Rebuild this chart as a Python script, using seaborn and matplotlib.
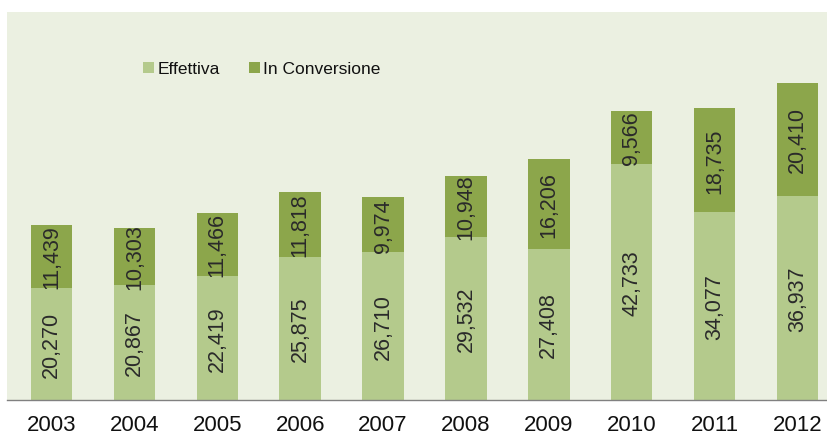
import matplotlib
matplotlib.use("Agg")
import matplotlib.pyplot as plt
import seaborn as sns
import numpy as np
import pandas as pd
from matplotlib.patches import Patch

years = ["2003", "2004", "2005", "2006", "2007", "2008", "2009", "2010", "2011", "2012"]
effettiva = [20270, 20867, 22419, 25875, 26710, 29532, 27408, 42733, 34077, 36937]
conversione = [11439, 10303, 11466, 11818, 9974, 10948, 16206, 9566, 18735, 20410]

light = "#b4ca8c"
dark = "#8ca64b"
bg = "#ebf0e1"

sns.set_theme(style="white")
plt.rcParams['font.family'] = ['Liberation Sans', 'DejaVu Sans']

df = pd.DataFrame({"year": years, "eff": effettiva, "conv": conversione})
df["tot"] = df["eff"] + df["conv"]

fig = plt.figure(figsize=(8.27, 4.35), dpi=100)
ax = fig.add_axes([7/827, 34/435, 820/827, 388/435])
ax.set_facecolor(bg)

sns.barplot(data=df, x="year", y="tot", color=dark, width=0.5, saturation=1, ax=ax, edgecolor="none")
sns.barplot(data=df, x="year", y="eff", color=light, width=0.5, saturation=1, ax=ax, edgecolor="none")

for i, (e, c) in enumerate(zip(effettiva, conversione)):
    ax.text(i, e / 2, f"{e:,}", rotation=90, ha="center", va="center", fontsize=15.5, color="#2a2a2a")
    ax.text(i, e + c / 2, f"{c:,}", rotation=90, ha="center", va="center", fontsize=15.5, color="#2a2a2a")

ax.set_xlim(-0.537, 9.356)
ax.set_ylim(0, 70200)
ax.set_xlabel("")
ax.set_ylabel("")
ax.set_yticks([])
ax.tick_params(axis="x", length=0, labelsize=16, pad=10, colors="#111111")
for s in ["top", "left", "right"]:
    ax.spines[s].set_visible(False)
ax.spines["bottom"].set_color("#808080")
ax.spines["bottom"].set_linewidth(1.0)

handles = [Patch(facecolor=light, edgecolor="none"), Patch(facecolor=dark, edgecolor="none")]
leg = fig.legend(handles, ["Effettiva", "In Conversione"], loc="center", bbox_to_anchor=(262/827, 1 - 70/435),
                 ncol=2, frameon=False, handlelength=0.6, handleheight=0.6,
                 handletextpad=0.2, columnspacing=1.7,
                 prop={"family": ["Liberation Sans"], "size": 12.5})
for t in leg.get_texts():
    t.set_color("#111111")

fig.savefig("out.png", dpi=100)
